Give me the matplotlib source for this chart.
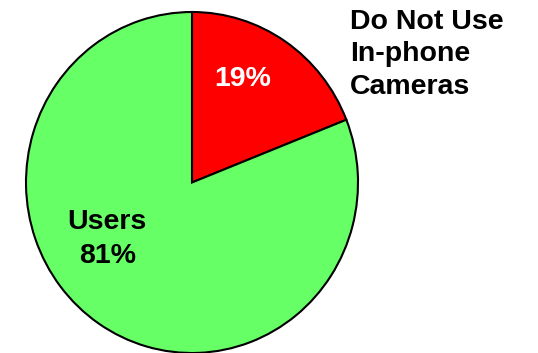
import matplotlib
matplotlib.use('Agg')
import matplotlib.pyplot as plt

labels = ['Do Not Use\nIn-phone\nCameras', 'Users']
shares = [19, 81]
colors = ['#ff0000', '#66ff66']

plt.rcParams['font.family'] = 'Liberation Sans'
plt.rcParams['font.weight'] = 'bold'

fig = plt.figure(figsize=(5.38, 3.53), dpi=100)
# axes box sized to the (slightly oval) pie
ax = fig.add_axes([26 / 538, 0.0, 332 / 538, 341 / 353])
wedges, _ = ax.pie(shares, colors=colors, startangle=90, counterclock=False,
                   wedgeprops=dict(edgecolor='black', linewidth=1.5))
ax.set_aspect('auto')
ax.set_xlim(-1, 1)
ax.set_ylim(-1, 1)
ax.axis('off')
for w in wedges:
    w.set_clip_on(False)

ax.text(0.307, 0.605, '%d%%' % shares[0], color='white', fontsize=20.5,
        ha='center', va='center')
ax.text(-0.51, -0.33, '%s\n%d%%' % (labels[1], shares[1]), color='black',
        fontsize=20.5, ha='center', va='center', linespacing=1.38)
ax.text(0.952, 1.02, labels[0], color='black', fontsize=20.5,
        ha='left', va='top', linespacing=1.34)

fig.savefig('out.png', dpi=100)
